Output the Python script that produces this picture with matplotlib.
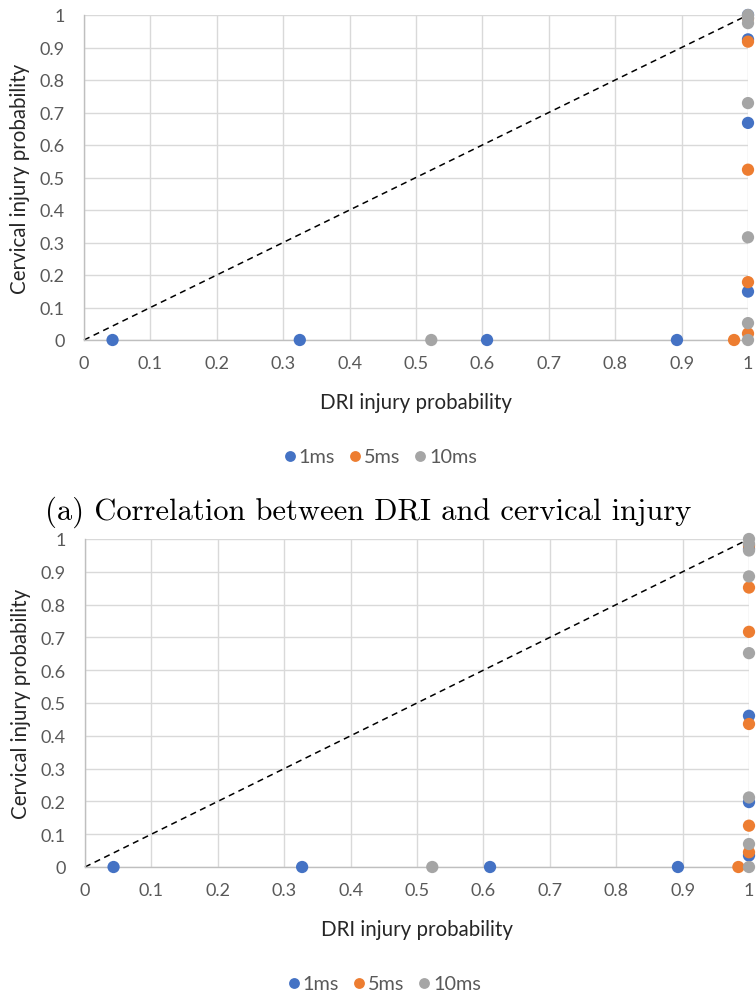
import matplotlib
matplotlib.use("Agg")
import matplotlib.pyplot as plt
from matplotlib.lines import Line2D

# ---- data: (a) ----
a_1ms_x = [0.043, 0.325, 0.607, 0.893, 1.0, 1.0, 1.0, 1.0]
a_1ms_y = [0.0, 0.0, 0.0, 0.0, 0.149, 0.668, 0.925, 1.0]
a_5ms_x = [0.979, 1.0, 1.0, 1.0, 1.0, 1.0]
a_5ms_y = [0.0, 0.02, 0.178, 0.524, 0.918, 0.99]
a_10ms_x = [0.523, 1.0, 1.0, 1.0, 1.0, 1.0, 1.0, 1.0]
a_10ms_y = [0.0, 0.0, 0.052, 0.316, 0.729, 0.975, 0.99, 1.0]

# ---- data: (b) ----
b_1ms_x = [0.043, 0.327, 0.61, 0.893, 1.0, 1.0, 1.0, 1.0]
b_1ms_y = [0.0, 0.0, 0.0, 0.0, 0.035, 0.198, 0.461, 0.97]
b_5ms_x = [0.984, 1.0, 1.0, 1.0, 1.0, 1.0, 1.0]
b_5ms_y = [0.0, 0.045, 0.126, 0.436, 0.717, 0.852, 0.98]
b_10ms_x = [0.523, 1.0, 1.0, 1.0, 1.0, 1.0, 1.0, 1.0, 1.0]
b_10ms_y = [0.0, 0.0, 0.070, 0.212, 0.652, 0.886, 0.965, 0.985, 1.0]

series_names = ["1ms", "5ms", "10ms"]
series_colors = ["#4472C4", "#ED7D31", "#A5A5A5"]
ticks = [i / 10 for i in range(11)]
tick_labels = ["0", "0.1", "0.2", "0.3", "0.4", "0.5", "0.6", "0.7", "0.8", "0.9", "1"]

x_title = "DRI injury probability"
y_title = "Cervical injury probability"
caption_a = "(a) Correlation between DRI and cervical injury"

W, H = 756, 995
fig = plt.figure(figsize=(W / 100, H / 100), dpi=100)
plt.rcParams["font.family"] = ["Lato", "DejaVu Sans"]

TICK_C = "#595959"
GRID_C = "#d9d9d9"


def panel(px_left, px_top, px_w, px_h, data):
    ax = fig.add_axes([px_left / W, (H - px_top - px_h) / H, px_w / W, px_h / H])
    ax.set_xlim(0, 1)
    ax.set_ylim(0, 1)
    ax.set_xticks(ticks)
    ax.set_yticks(ticks)
    ax.set_xticklabels(tick_labels)
    ax.set_yticklabels(tick_labels)
    ax.tick_params(length=0, labelsize=13, colors=TICK_C)
    ax.tick_params(axis="x", pad=11)
    ax.tick_params(axis="y", pad=14)
    ax.grid(True, color=GRID_C, linewidth=1.0)
    ax.set_axisbelow(True)
    for s in ("top", "right"):
        ax.spines[s].set_visible(False)
    for s in ("left", "bottom"):
        ax.spines[s].set_color("#bfbfbf")
        ax.spines[s].set_linewidth(1.0)
    ax.plot([0, 1], [0, 1], color="black", linestyle=(0, (4, 3)), linewidth=1.1,
            zorder=2, clip_on=False)
    handles = []
    for (xs, ys), name, col in zip(data, series_names, series_colors):
        h = ax.scatter(xs, ys, s=78, color=col, edgecolors="none", zorder=3,
                       clip_on=False, label=name)
        handles.append(h)
    ax.set_xlabel(x_title, fontsize=14.8, color="#262626", labelpad=15)
    ax.set_ylabel(y_title, fontsize=14.8, color="#262626", labelpad=7)
    return ax, handles


ax1, h1 = panel(84, 16, 664, 325,
                [(a_1ms_x, a_1ms_y), (a_5ms_x, a_5ms_y), (a_10ms_x, a_10ms_y)])
ax2, h2 = panel(85, 540, 664, 328,
                [(b_1ms_x, b_1ms_y), (b_5ms_x, b_5ms_y), (b_10ms_x, b_10ms_y)])


def legend_at(ax, cx, cy):
    hs = [Line2D([], [], marker="o", linestyle="none", markersize=7.8,
                 markerfacecolor=c, markeredgecolor="none") for c in series_colors]
    lg = fig.legend(hs, series_names, loc="center", bbox_to_anchor=(cx / W, 1 - cy / H),
                    ncol=3, frameon=False, fontsize=14.3, handletextpad=0.0,
                    columnspacing=0.55, handlelength=0.9, borderpad=0)
    for t in lg.get_texts():
        t.set_color(TICK_C)


legend_at(ax1, 379, 458)
legend_at(ax2, 383, 985)

fig.text(368 / W, 1 - 512 / H, caption_a, ha="center", va="center",
         fontsize=22, family="cmr10", color="black")

fig.savefig("out.png", dpi=100)
